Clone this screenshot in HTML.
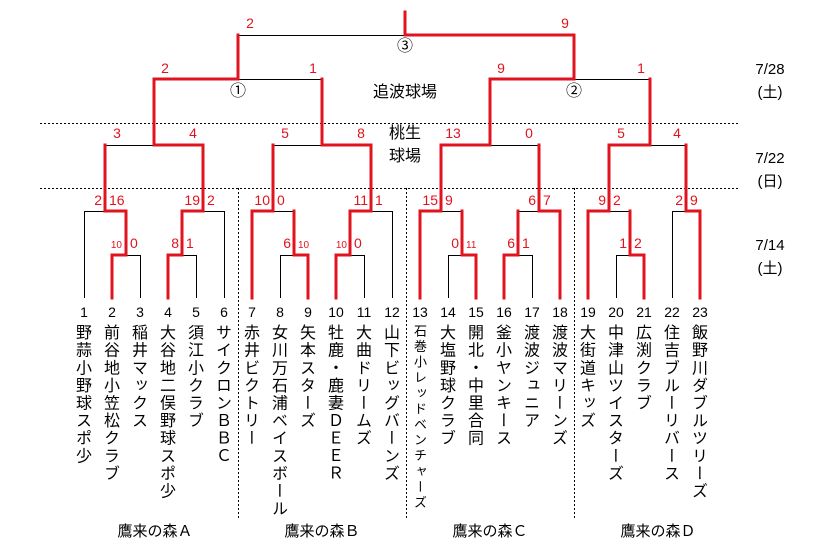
<!DOCTYPE html>
<html><head><meta charset="utf-8"><style>
body{margin:0;background:#fff;}
#w{position:relative;width:832px;height:554px;overflow:hidden;background:#fff;font-family:"Liberation Sans","Noto Sans CJK JP",sans-serif;}
.n{position:absolute;top:324px;width:20px;writing-mode:vertical-rl;text-orientation:upright;font-size:16px;letter-spacing:1.6px;line-height:20px;color:#000;font-family:"Noto Sans CJK JP","WenQuanYi Zen Hei",sans-serif;}
.s{font-size:13px;letter-spacing:2.6px;}
svg{position:absolute;left:0;top:0;}
</style></head><body><div id="w">
<svg width="832" height="554" xmlns="http://www.w3.org/2000/svg">
<g stroke="#000" stroke-width="1" stroke-dasharray="2,2">
<line x1="40" y1="123.5" x2="740" y2="123.5"/>
<line x1="40" y1="188.5" x2="740" y2="188.5"/>
<line x1="238.5" y1="188" x2="238.5" y2="520"/>
<line x1="406.5" y1="188" x2="406.5" y2="520"/>
<line x1="574.5" y1="188" x2="574.5" y2="520"/>
</g>
<g stroke="#000" stroke-width="1" fill="none">
<path d="M112 255.5H140M168 255.5H196M280 255.5H308M336 255.5H364M448 255.5H476M504 255.5H532M616 255.5H644"/>
<path d="M84 211.5H126M182 211.5H224M252 211.5H294M350 211.5H392M420 211.5H462M518 211.5H560M588 211.5H630M672 211.5H700"/>
<path d="M105 145.5H203M273 145.5H371M441 145.5H539M609 145.5H686"/>
<path d="M154 79.5H322M490 79.5H650M238 35.5H574"/>
<path d="M140.5 298V255M196.5 298V255M280.5 298V255M364.5 298V255M448.5 298V255M532.5 298V255M616.5 298V255"/>
<path d="M84.5 298V211M224.5 298V211M392.5 298V211M672.5 298V211"/>
</g>
<g stroke="#e0141e" stroke-width="3" fill="none" stroke-linejoin="miter" stroke-linecap="square">
<path d="M112 298V255H126V211"/>
<path d="M168 298V255H182V211"/>
<path d="M308 298V255H294V211"/>
<path d="M336 298V255H350V211"/>
<path d="M476 298V255H462V211"/>
<path d="M504 298V255H518V211"/>
<path d="M644 298V255H630V211"/>
<path d="M126 211H105V145"/>
<path d="M182 211H203V145"/>
<path d="M252 298V211H273V145"/>
<path d="M350 211H371V145"/>
<path d="M420 298V211H441V145"/>
<path d="M560 298V211H539V145"/>
<path d="M588 298V211H609V145"/>
<path d="M700 298V211H686V145"/>
<path d="M203 145H154V79"/>
<path d="M371 145H322V79"/>
<path d="M441 145H490V79"/>
<path d="M609 145H650V79"/>
<path d="M154 79H238V35"/>
<path d="M490 79H574V35"/>
<path d="M574 35H405V12"/>
</g>
<g fill="#e0141e" font-family="Liberation Sans,sans-serif" font-size="14">
<g text-anchor="end">
<text x="122" y="248" font-size="10">10</text><text x="179" y="248">8</text><text x="291" y="248">6</text><text x="347" y="248" font-size="10">10</text><text x="459" y="248">0</text><text x="515" y="248">6</text><text x="627" y="248">1</text>
<text x="102" y="205">2</text><text x="200" y="205">19</text><text x="270" y="205">10</text><text x="368" y="205">11</text><text x="438" y="205">15</text><text x="536" y="205">6</text><text x="606" y="205">9</text><text x="683" y="205">2</text>
</g>
<g>
<text x="130" y="248">0</text><text x="186" y="248">1</text><text x="298" y="248" font-size="10">10</text><text x="354" y="248">0</text><text x="466" y="248" font-size="10">11</text><text x="522" y="248">1</text><text x="634" y="248">2</text>
<text x="109" y="205">16</text><text x="207" y="205">2</text><text x="277" y="205">0</text><text x="375" y="205">1</text><text x="445" y="205">9</text><text x="543" y="205">7</text><text x="613" y="205">2</text><text x="690" y="205">9</text>
</g>
<g text-anchor="middle">
<text x="117" y="138">3</text><text x="193" y="138">4</text>
<text x="285" y="138">5</text><text x="361" y="138">8</text>
<text x="453" y="138">13</text><text x="529" y="138">0</text>
<text x="621" y="138">5</text><text x="677" y="138">4</text>
<text x="165" y="73">2</text><text x="313" y="73">1</text>
<text x="501" y="73">9</text><text x="641" y="73">1</text>
<text x="250" y="28">2</text><text x="565" y="28">9</text>
</g>
</g>
<g font-family="Liberation Sans,Noto Sans CJK JP,sans-serif" font-size="16" text-anchor="middle" fill="#000">
<text x="238" y="96">①</text><text x="574" y="96">②</text><text x="405" y="51">③</text>
<text x="405" y="97" font-size="16">追波球場</text>
<text x="405" y="138" font-size="16">桃生</text>
<text x="405" y="161" font-size="16">球場</text>
<text x="770" y="74" font-size="15">7/28</text><text x="770" y="97" font-size="15">(土)</text>
<text x="770" y="163" font-size="15">7/22</text><text x="770" y="186" font-size="15">(日)</text>
<text x="770" y="250" font-size="15">7/14</text><text x="770" y="273" font-size="15">(土)</text>
<text x="155" y="536" font-size="15">鷹来の森Ａ</text>
<text x="322" y="536" font-size="15">鷹来の森Ｂ</text>
<text x="490" y="536" font-size="15">鷹来の森Ｃ</text>
<text x="658" y="536" font-size="15">鷹来の森Ｄ</text>
</g>
<g font-family="Liberation Sans,sans-serif" font-size="14" text-anchor="middle" fill="#000">
<text x="84" y="317">1</text><text x="112" y="317">2</text><text x="140" y="317">3</text><text x="168" y="317">4</text><text x="196" y="317">5</text><text x="224" y="317">6</text><text x="252" y="317">7</text><text x="280" y="317">8</text><text x="308" y="317">9</text><text x="336" y="317">10</text><text x="364" y="317">11</text><text x="392" y="317">12</text><text x="420" y="317">13</text><text x="448" y="317">14</text><text x="476" y="317">15</text><text x="504" y="317">16</text><text x="532" y="317">17</text><text x="560" y="317">18</text><text x="588" y="317">19</text><text x="616" y="317">20</text><text x="644" y="317">21</text><text x="672" y="317">22</text><text x="700" y="317">23</text>
</g>
</svg>
<div class="n" style="left:74px">野蒜小野球スポ少</div>
<div class="n" style="left:102px">前谷地小笠松クラブ</div>
<div class="n" style="left:130px">稲井マックス</div>
<div class="n" style="left:158px">大谷地二俣野球スポ少</div>
<div class="n" style="left:186px">須江小クラブ</div>
<div class="n" style="left:214px">サイクロンＢＢＣ</div>
<div class="n" style="left:242px">赤井ビクトリー</div>
<div class="n" style="left:270px">女川万石浦ベイスボール</div>
<div class="n" style="left:298px">矢本スターズ</div>
<div class="n" style="left:326px">牡鹿・鹿妻ＤＥＥＲ</div>
<div class="n" style="left:354px">大曲ドリームズ</div>
<div class="n" style="left:382px">山下ビッグバーンズ</div>
<div class="n s" style="left:410px">石巻小レッドベンチャーズ</div>
<div class="n" style="left:438px">大塩野球クラブ</div>
<div class="n" style="left:466px">開北・中里合同</div>
<div class="n" style="left:494px">釜小ヤンキース</div>
<div class="n" style="left:522px">渡波ジュニア</div>
<div class="n" style="left:550px">渡波マリーンズ</div>
<div class="n" style="left:578px">大街道キッズ</div>
<div class="n" style="left:606px">中津山ツイスターズ</div>
<div class="n" style="left:634px">広渕クラブ</div>
<div class="n" style="left:662px">住吉ブルーリバース</div>
<div class="n" style="left:690px">飯野川ダブルツリーズ</div>
</div></body></html>
